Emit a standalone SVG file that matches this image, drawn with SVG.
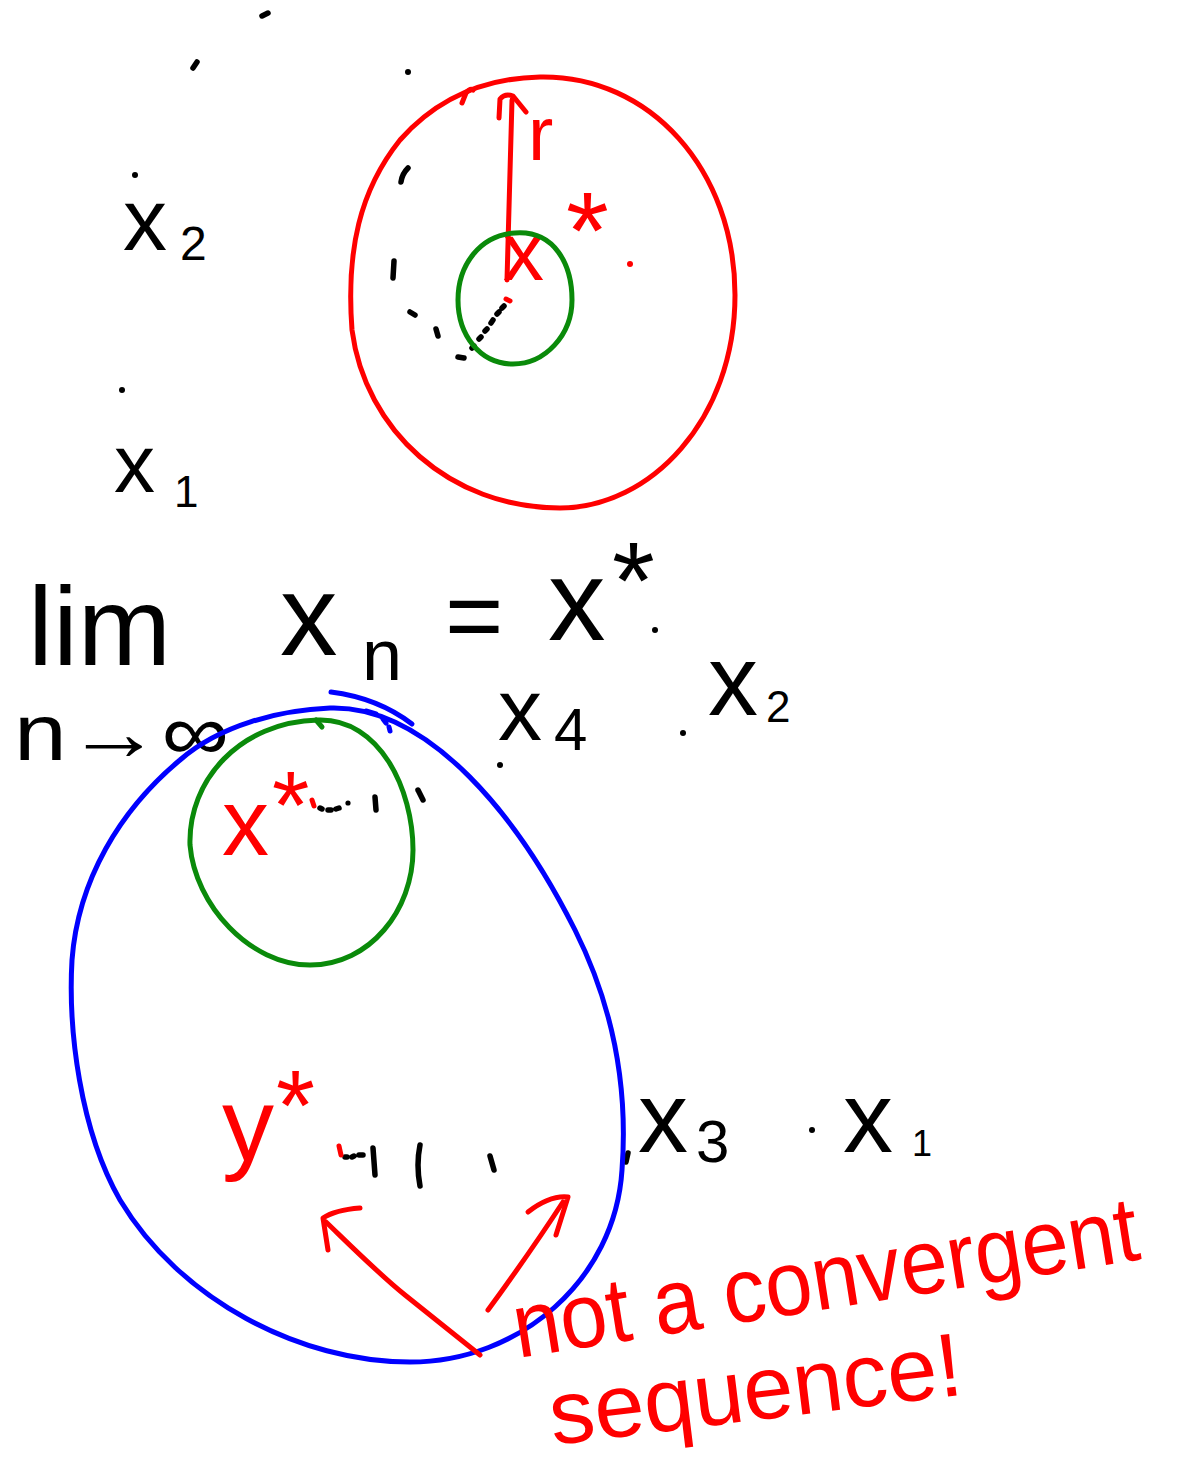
<svg xmlns="http://www.w3.org/2000/svg" width="1189" height="1465" viewBox="0 0 1189 1465">
<style>
.bg{fill:#ffffff}
.k{fill:none;stroke:#000;stroke-width:5.5;stroke-linecap:round;stroke-linejoin:round}
.r{fill:none;stroke:#ff0000;stroke-width:5;stroke-linecap:round;stroke-linejoin:round}
.g{fill:none;stroke:#0a8a0a;stroke-width:5;stroke-linecap:round;stroke-linejoin:round}
.b{fill:none;stroke:#0000ff;stroke-width:5;stroke-linecap:round;stroke-linejoin:round}
.dk{fill:#000}
.dr{fill:#ff0000}
.t{font-family:"Liberation Sans","DejaVu Sans",sans-serif;fill:#000}
.tr{font-family:"Liberation Sans","DejaVu Sans",sans-serif;fill:#ff0000}
</style>
<rect class="bg" x="0" y="0" width="1189" height="1465"/>

<g id="top-sequence">
  <path class="k" d="M262 16 L268 13"/>
  <path class="k" d="M193 68 L197 62"/>
  <circle class="dk" cx="408" cy="72" r="3"/>
  <circle class="dk" cx="135" cy="175" r="3"/>
  <circle class="dk" cx="122" cy="390" r="3"/>
  <path class="k" d="M401 182 Q402 174 408 168"/>
  <path class="k" d="M394 261 L393 278"/>
  <path class="k" d="M410 312 L415 315"/>
  <path class="k" d="M436 329 L438 336"/>
  <path class="k" d="M458 357 L464 358"/>
  <path class="k" d="M472 348 L474 346 M479 339 L481 337 M485 331 L487 329 M491 323 L493 320 M497 314 L499 312 M502 308 L504 306"/>
  <text class="t" x="123" y="250" font-size="88">x</text>
  <text class="t" x="180" y="260" font-size="48">2</text>
  <text class="t" x="114" y="492" font-size="82">x</text>
  <text class="t" x="174" y="507" font-size="44">1</text>
</g>

<g id="red-ball">
  <path class="r" d="M540 77 C650 75 735 170 735 295 C735 420 650 508 560 508 C450 508 365 430 352 330 C346 250 360 190 400 140 C440 95 490 78 540 77 Z"/>
  <path class="r" d="M507 280 L512 100"/>
  <path class="r" d="M499 118 L500 99 Q505 93 513 96 L526 112"/>
  <path class="r" d="M462 103 L466 93 Q470 88 473 90"/>
  <text class="tr" x="528" y="160" font-size="76">r</text>
  <text class="tr" x="503" y="280" font-size="82">x</text>
  <text class="tr" x="566" y="268" font-size="110">*</text>
  <circle class="dr" cx="630" cy="264" r="3"/>
  <path class="r" d="M506 299 L510 301"/>
</g>

<g id="green-ball-top">
  <path class="g" d="M515 233 C555 230 572 265 572 300 C572 335 545 364 513 364 C480 364 458 335 458 300 C458 265 480 235 515 233 Z"/>
</g>

<g id="limit-statement">
  <text class="t" x="28" y="665" font-size="112">lim</text>
  <text class="t" x="14" y="760" font-size="80" textLength="215" lengthAdjust="spacingAndGlyphs">n→∞</text>
  <text class="t" x="280" y="655" font-size="115">x</text>
  <text class="t" x="362" y="680" font-size="72">n</text>
  <text class="t" x="445" y="650" font-size="100">=</text>
  <text class="t" x="548" y="640" font-size="115">x</text>
  <text class="t" x="612" y="618" font-size="110">*</text>
  <circle class="dk" cx="655" cy="630" r="3"/>
</g>

<g id="bottom-sequence">
  <text class="t" x="498" y="740" font-size="88">x</text>
  <text class="t" x="554" y="750" font-size="60">4</text>
  <circle class="dk" cx="500" cy="765" r="3"/>
  <circle class="dk" cx="683" cy="733" r="3"/>
  <text class="t" x="708" y="715" font-size="100">x</text>
  <text class="t" x="766" y="722" font-size="44">2</text>
  <text class="t" x="638" y="1152" font-size="100">x</text>
  <text class="t" x="696" y="1162" font-size="60">3</text>
  <circle class="dk" cx="812" cy="1130" r="3"/>
  <text class="t" x="843" y="1152" font-size="100">x</text>
  <text class="t" x="912" y="1156" font-size="36">1</text>
  <path class="k" d="M320 808 L322 809 M328 810 L331 810 M336 809 L339 808"/>
  <circle class="dk" cx="348" cy="803" r="2.6"/>
  <path class="k" d="M375 797 L376 810"/>
  <path class="k" d="M418 790 L423 800"/>
  <path class="k" d="M345 1157 L347 1157 M352 1157 L354 1156 M359 1155 L363 1155"/>
  <path class="k" d="M373 1148 L375 1175"/>
  <path class="k" d="M420 1145 Q416 1165 420 1186"/>
  <path class="k" d="M490 1156 L494 1170"/>
  <path class="k" d="M626 1162 L628 1153"/>
</g>

<g id="blue-ball">
  <path class="b" d="M330 708 C430 705 520 820 575 930 C615 1010 628 1090 622 1170 C615 1280 520 1362 410 1362 C300 1362 180 1300 120 1200 C80 1130 68 1030 72 960 C78 880 120 810 180 760 C220 725 280 710 330 708 Z"/>
  <path class="b" d="M331 692 Q378 698 412 724"/>
  <path class="b" d="M366 711 L376 714 M383 719 L386 723 M389 727 L390 731"/>
</g>

<g id="green-ball-bottom">
  <path class="g" d="M318 720 C380 718 413 790 413 850 C413 910 370 965 310 965 C250 965 195 905 190 845 C188 780 240 722 318 720 Z"/>
  <path class="g" d="M316 720 L322 727"/>
  <text class="tr" x="222" y="855" font-size="94">x</text>
  <text class="tr" x="272" y="838" font-size="96">*</text>
  <path class="r" d="M312 800 L314 806"/>
</g>

<g id="limit-y">
  <text class="tr" x="222" y="1160" font-size="104">y</text>
  <text class="tr" x="276" y="1140" font-size="100">*</text>
  <path class="r" d="M339 1146 L341 1155"/>
</g>

<g id="connectors">
  <path class="r" d="M480 1355 C455 1335 430 1315 405 1295 C380 1275 355 1250 326 1222"/>
  <path class="r" d="M328 1250 L323 1218 Q335 1210 360 1208"/>
  <path class="r" d="M488 1310 C510 1280 535 1245 563 1202"/>
  <path class="r" d="M528 1212 Q550 1195 568 1197 L556 1235"/>
</g>

<g id="caption">
  <text class="tr" x="518" y="1358" font-size="92" textLength="632" lengthAdjust="spacingAndGlyphs" transform="rotate(-9 518 1358)">not a convergent</text>
  <text class="tr" x="553" y="1445" font-size="90" textLength="415" lengthAdjust="spacingAndGlyphs" transform="rotate(-7 553 1445)">sequence!</text>
</g>
</svg>
